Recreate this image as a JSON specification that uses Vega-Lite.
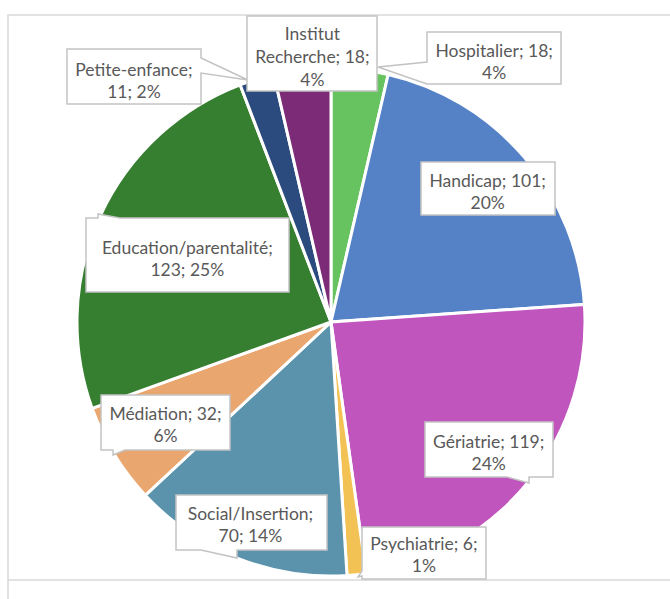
{
  "$schema": "https://vega.github.io/schema/vega-lite/v6.json",
  "width": 662,
  "height": 554,
  "autosize": {"type": "none"},
  "padding": {"left": 0, "top": 45, "right": 8, "bottom": 0},
  "background": "white",
  "config": {"view": {"stroke": null}, "text": {"lineBreak": "\n", "align": "center", "baseline": "middle", "font": "Lato", "fontSize": 17.5, "lineHeight": 22.5, "fill": "#595959"}},
  "data": {"values": [
    {"k": 1, "category": "Hospitalier", "value": 18, "label": "Hospitalier; 18;\n4%"},
    {"k": 2, "category": "Handicap", "value": 101, "label": "Handicap; 101;\n20%"},
    {"k": 3, "category": "Gériatrie", "value": 119, "label": "Gériatrie; 119;\n24%"},
    {"k": 4, "category": "Psychiatrie", "value": 6, "label": "Psychiatrie; 6;\n1%"},
    {"k": 5, "category": "Social/Insertion", "value": 70, "label": "Social/Insertion;\n70; 14%"},
    {"k": 6, "category": "Médiation", "value": 32, "label": "Médiation; 32;\n6%"},
    {"k": 7, "category": "Education/parentalité", "value": 123, "label": "Education/parentalité;\n123; 25%"},
    {"k": 8, "category": "Petite-enfance", "value": 11, "label": "Petite-enfance;\n11; 2%"},
    {"k": 9, "category": "Institut Recherche", "value": 18, "label": "Institut\nRecherche; 18;\n4%"}
  ]},
  "layer": [
    {
      "transform": [{"aggregate": [{"op": "count", "as": "n"}]}],
      "mark": {"type": "point", "filled": false, "shape": "M345,-307H-323V277M-323,258H345", "size": 4, "stroke": "#d9d9d9", "strokeWidth": 1.5, "opacity": 1, "strokeOpacity": 1}
    },
    {
      "mark": {"type": "arc", "outerRadius": 254, "stroke": "white", "strokeWidth": 3},
      "encoding": {
        "theta": {"field": "value", "type": "quantitative", "stack": true},
        "order": {"field": "k", "type": "quantitative"},
        "color": {"field": "category", "type": "nominal", "legend": null,
          "scale": {"domain": ["Hospitalier", "Handicap", "Gériatrie", "Psychiatrie", "Social/Insertion", "Médiation", "Education/parentalité", "Petite-enfance", "Institut Recherche"],
                    "range": ["#66c35f", "#5582c6", "#c055bd", "#f3c255", "#5b93ad", "#eaa66f", "#367f30", "#2b4b7e", "#7c2b76"]}}
      }
    },
    {
      "mark": {"type": "point", "filled": true, "fill": "white", "stroke": "#c3c3c3", "strokeWidth": 1.5, "size": 4, "opacity": 1, "strokeOpacity": 1, "fillOpacity": 1},
      "encoding": {
        "shape": {"field": "category", "type": "nominal", "legend": null,
          "scale": {"domain": ["Hospitalier", "Handicap", "Gériatrie", "Psychiatrie", "Social/Insertion", "Médiation", "Education/parentalité", "Petite-enfance", "Institut Recherche"],
                    "range": [
                      "M96,-290H230V-238H96L47,-255L96,-260Z",
                      "M90,-160H224V-107H90Z",
                      "M94,100H222V155H198L198,161L176,155H94Z",
                      "M31,205H155V257H31V254L27,255L31,249Z",
                      "M-155,173H-4V228H-94V236L-130,228H-155Z",
                      "M-230,73H-101V128H-206L-218,133V128H-230Z",
                      "M-245,-104H-233V-108L-211,-104H-42V-30H-245Z",
                      "M-264,-273H-130V-264L-83,-242L-130,-249V-218H-264Z",
                      "M-84,-306H46V-231H-84Z"
                    ]}}
      }
    },
    {
      "encoding": {
        "theta": {"field": "value", "type": "quantitative", "stack": true},
        "order": {"field": "k", "type": "quantitative"},
        "detail": {"field": "category", "type": "nominal"}
      },
      "layer": [
        {"mark": {"type": "text", "dx": 12, "dy": -19, "lineHeight": 23},
         "encoding": {"radius": {"value": 270}, "text": {"condition": {"test": "datum.category === 'Institut Recherche'", "field": "label"}, "value": ""}}},
        {"mark": {"type": "text", "dx": 133, "dy": -6},
         "encoding": {"radius": {"value": 266}, "text": {"condition": {"test": "datum.category === 'Hospitalier'", "field": "label"}, "value": ""}}},
        {"mark": {"type": "text", "dx": -122, "dy": -5.5},
         "encoding": {"radius": {"value": 257}, "text": {"condition": {"test": "datum.category === 'Petite-enfance'", "field": "label"}, "value": ""}}},
        {"mark": {"type": "text", "dx": 69, "dy": -13},
         "encoding": {"radius": {"value": 237}, "text": {"condition": {"test": "datum.category === 'Psychiatrie'", "field": "label"}, "value": ""}}},
        {"mark": {"type": "text", "dy": -6.6},
         "encoding": {"radius": {"value": 206}, "text": {"condition": {"test": "datum.category === 'Handicap'", "field": "label"}, "value": ""}}},
        {"mark": {"type": "text", "dy": -7.2},
         "encoding": {"radius": {"value": 203}, "text": {"condition": {"test": "datum.category === 'Gériatrie'", "field": "label"}, "value": ""}}},
        {"mark": {"type": "text", "dy": -9.9},
         "encoding": {"radius": {"value": 218}, "text": {"condition": {"test": "datum.category === 'Social/Insertion'", "field": "label"}, "value": ""}}},
        {"mark": {"type": "text", "dy": -8.5},
         "encoding": {"radius": {"value": 194}, "text": {"condition": {"test": "datum.category === 'Médiation'", "field": "label"}, "value": ""}}},
        {"mark": {"type": "text", "dy": -7.6},
         "encoding": {"radius": {"value": 158}, "text": {"condition": {"test": "datum.category === 'Education/parentalité'", "field": "label"}, "value": ""}}}
      ]
    }
  ]
}
